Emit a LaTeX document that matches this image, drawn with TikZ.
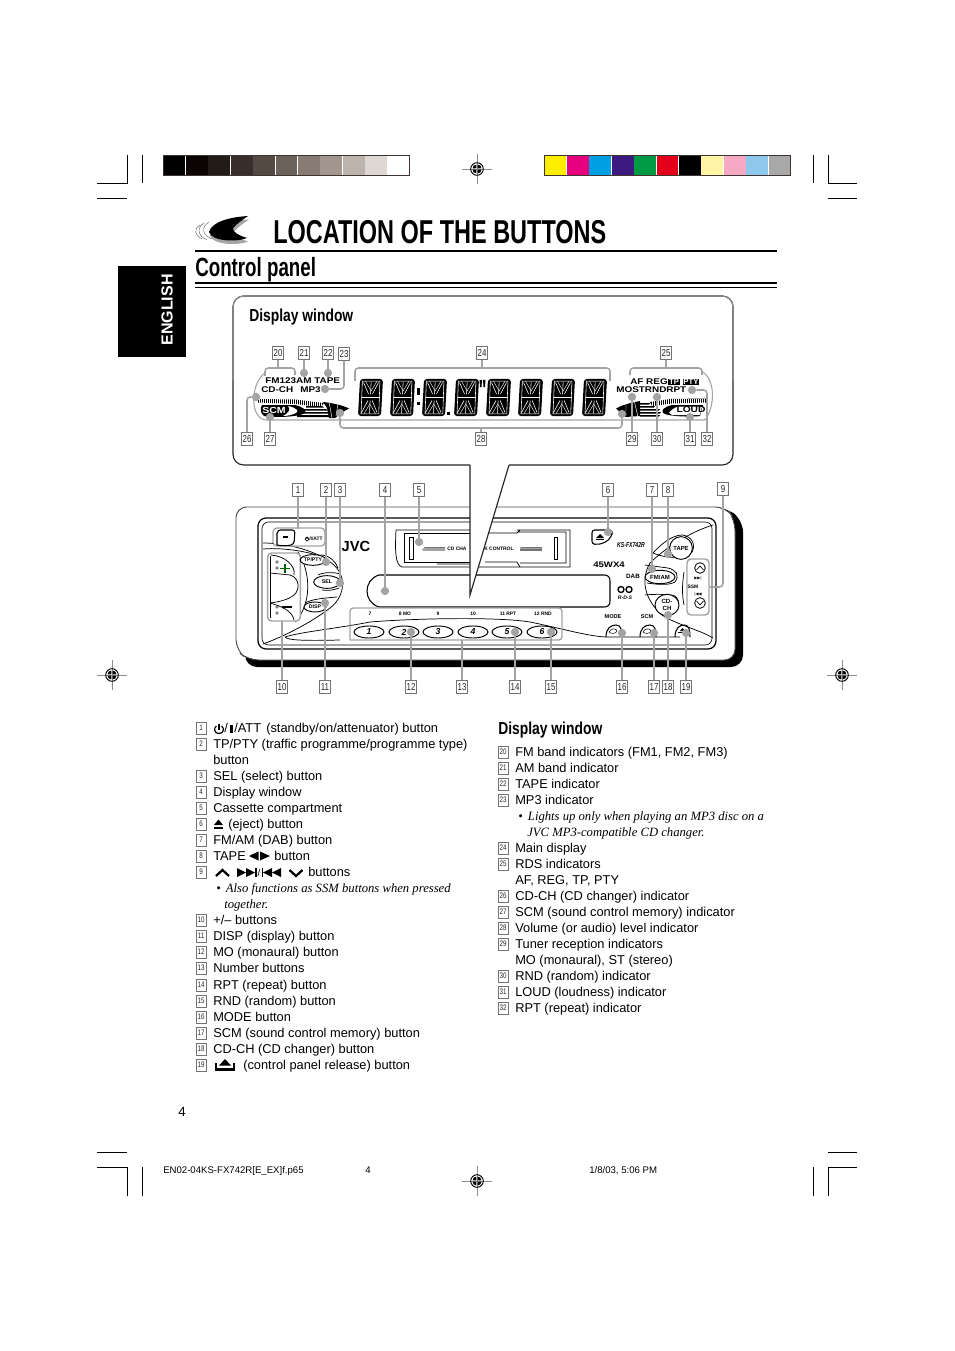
\documentclass[tikz,border=0pt]{standalone}
\usepackage{fontspec}
\usetikzlibrary{shapes.geometric}
\setmainfont{Liberation Sans}
\newfontfamily\condf[FakeStretch=0.71]{Liberation Sans}
\newfontfamily\condg[FakeStretch=0.8]{Liberation Sans}
\newfontfamily\narrf[FakeStretch=0.78]{Liberation Sans}
\newfontfamily\widef[FakeStretch=1.2]{Liberation Sans}
\newfontfamily\serf{Liberation Serif}
\newfontfamily\djv{DejaVu Sans}
\definecolor{conn}{HTML}{A3A3A3}
\definecolor{dkbar}{HTML}{3F3430}
\tikzset{
  numbox/.style={draw=black!55,line width=.4pt,fill=white,minimum width=8.6pt,minimum height=9.8pt,inner sep=0pt,font=\narrf\fontsize{7.6}{8}\selectfont,text=black!85},
  lnum/.style={draw=black!55,line width=.35pt,fill=white,minimum width=7.6pt,minimum height=8.6pt,inner sep=0pt,font=\narrf\fontsize{6}{7}\selectfont,text=black!85},
  ltext/.style={anchor=base west,inner sep=0pt,font=\fontsize{9.62}{11}\selectfont},
  lital/.style={anchor=base west,inner sep=0pt,font=\serf\itshape\fontsize{9.5}{11}\selectfont},
  conn/.style={draw=conn,line width=1.15pt,rounded corners=2.5pt},
  cdot/.style={circle,fill=conn,minimum size=6.2pt,inner sep=0pt},
  crop/.style={line width=.5pt,black},
  thin/.style={line width=.55pt,black},
  med/.style={line width=.8pt,black},
  btn/.style={ellipse,draw=black,line width=.7pt,fill=white,inner sep=0pt},
  lcd/.style={inner sep=0pt,font=\widef\bfseries\fontsize{6.2}{7}\selectfont},
  tiny/.style={inner sep=0pt,font=\bfseries\fontsize{3.7}{4}\selectfont},
  frame/.style={draw=conn,line width=1pt,rounded corners=2.5pt},
}
\newcommand{\segdigit}[1]{%
  \begin{scope}[shift={(#1,379)}]
    \fill[black,rounded corners=2.2pt] (2,0)--(25,0)--(23,37)--(0,37)--cycle;
    \draw[white,line width=.42pt] (3.6,18.5)--(21.8,18.5)
      (13.1,3)--(12.6,15.5) (12.1,21.5)--(11.5,34)
      (5.5,3.5)--(10.5,15) (20.5,3.5)--(14.5,15)
      (3.5,33.5)--(10,21.5) (19,33.5)--(14.2,21.5)
      (4.4,2.2)--(21.9,2.2)--(20.8,34.8)--(3,34.8)--cycle;
    \draw[white,line width=.3pt] (7.5,2.2)--(13.1,12)--(19,2.2) (6,34.8)--(11.8,25)--(17.5,34.8);
  \end{scope}}
\newcommand{\regmark}[2]{%
  \begin{scope}[shift={(#1,#2)}]
    \draw[black!45,line width=.4pt] (-15,0)--(15,0) (0,-15)--(0,15);
    \draw[black,line width=.7pt] (0,0) circle [radius=6.3];
    \fill[black] (-4.4,-.6)--(-.6,-.6)--(-.6,-4.4) .. controls (-3,-4.4) and (-4.4,-3) .. cycle;
    \fill[black] (4.4,-.6)--(.6,-.6)--(.6,-4.4) .. controls (3,-4.4) and (4.4,-3) .. cycle;
    \fill[black] (-4.4,.6)--(-.6,.6)--(-.6,4.4) .. controls (-3,4.4) and (-4.4,3) .. cycle;
    \fill[black] (4.4,.6)--(.6,.6)--(.6,4.4) .. controls (3,4.4) and (4.4,3) .. cycle;
  \end{scope}}
\begin{document}
\begin{tikzpicture}[x=.75pt,y=-.75pt]
\useasboundingbox (0,0) rectangle (954,1351);
\fill[white] (0,0) rectangle (954,1351);

% crop marks
\draw[crop] (127,155)--(127,183)--(97,183) (142,155)--(142,183) (97,198)--(127,198);
\draw[crop] (813,155)--(813,183) (857,183)--(828,183)--(828,155) (828,198)--(857,198);
\draw[crop] (97,1152)--(127,1152) (97,1167)--(127,1167)--(127,1196) (142,1167)--(142,1196);
\draw[crop] (828,1152)--(857,1152) (857,1167)--(828,1167)--(828,1196) (813,1167)--(813,1196);
\regmark{477}{169}\regmark{477}{1181}\regmark{112}{675}\regmark{842}{675}

% grey bar
\foreach \i/\c in {0/000000,1/0A0405,2/221C18,3/3A2E2C,4/534A44,5/6B625C,6/877B74,7/A2968F,8/BDB3AD,9/DDD8D4,10/FFFFFF}{
  \definecolor{tmpc}{HTML}{\c}
  \fill[tmpc] ({163.5+\i*22.4},155.5) rectangle ({163.5+\i*22.4+21.9},175.5);
}
\draw[dkbar,line width=.8pt] (163.5,155.5) rectangle (409.8,175.5);
% colour bar
\foreach \i/\c in {0/FFED00,1/E6007E,2/009FE3,3/3C1A80,4/009A44,5/E2001A,6/000000,7/FFF3A6,8/F5A9C4,9/8DC8EC,10/A8A8A8}{
  \definecolor{tmpc}{HTML}{\c}
  \fill[tmpc] ({544.5+\i*22.4},155.5) rectangle ({544.5+\i*22.4+21.9},175.5);
}
\draw[dkbar,line width=.8pt] (544.5,155.5) rectangle (790.8,175.5);

% title logo
\fill[black!35] (249,219.5) .. controls (233,220.5) and (213,224.5) .. (210,235.5) .. controls (213,245.5) and (239,245.5) .. (248,241.5) .. controls (241,239.5) and (233,235.5) .. (234,231.5) .. controls (238,227) and (244,223) .. (249,219.5)--cycle;
\fill[black] (248,216) .. controls (232,217) and (212,221) .. (209,232) .. controls (212,242) and (238,242) .. (247,238) .. controls (240,236) and (232,232) .. (233,228) .. controls (237,223.5) and (243,219.5) .. (248,216)--cycle;
\draw[black!60,line width=.35pt] (209,222) .. controls (201,227) and (202,235) .. (212,239)
  (204,223) .. controls (196,228) and (198,236) .. (207,240)
  (200,225) .. controls (193,229) and (195,236) .. (202,239);
\node[anchor=base west,inner sep=0pt,font=\condf\bfseries\fontsize{24.8}{28}\selectfont] (title) at (273,244) {LOCATION OF THE BUTTONS};
\draw[black,line width=1.5pt] (195,251)--(777,251);
\node[anchor=base west,inner sep=0pt,font=\condf\bfseries\fontsize{19.8}{22}\selectfont] (sub) at (195,277) {Control panel};
\draw[black,line width=1.5pt] (195,283.5)--(777,283.5);
\draw[black,line width=.7pt] (195,287)--(777,287);

% english tab
\fill[black] (118,266) rectangle (186,357);
\node[rotate=90,text=white,inner sep=0pt,font=\bfseries\fontsize{12}{14}\selectfont] (eng) at (167,310) {ENGLISH};

% ===== device =====
\fill[black,rounded corners=9pt] (245,512)--(725,507)--(743,520)--(743,667)--(245,667)--cycle;
\fill[white,draw=black!70,line width=.7pt,rounded corners=8pt] (236,507)--(726,507)--(735,520)--(735,660)--(248,660)--(236,650)--cycle;
\draw[black,line width=.9pt,rounded corners=6pt] (258,518) rectangle (716,649);
\draw[black,line width=.45pt,rounded corners=5pt] (262,522) rectangle (712,645);

% left cluster arcs
\draw[thin] (263,543) .. controls (285,543) and (318,550) .. (335,566) .. controls (348,580) and (343,598) .. (330,608) .. controls (312,622) and (285,636) .. (263,644);
\draw[thin] (263,549) .. controls (285,547) and (318,553) .. (328,560);
\draw[thin] (298,552) .. controls (311,572) and (312,604) .. (295,622);
\draw[thin] (303,557)--(322,555) .. controls (330,556) and (336,562) .. (338,568);
\draw[thin] (318,575) .. controls (324,572) and (334,572) .. (340,574);
\draw[thin] (322,590) .. controls (328,591) and (334,590) .. (339,588);
\draw[thin] (305,603) .. controls (312,599) and (325,598) .. (337,597);
% swoosh
\draw[thin] (285,637) .. controls (300,632) and (340,628) .. (370,622) .. controls (420,618) and (500,617) .. (530,622) .. controls (560,628) and (590,637) .. (608,637)--(680,637);
\draw[thin] (285,637) .. controls (288,640) and (300,641) .. (340,640);

% button 1
\node[draw=conn,line width=1pt,rounded corners=3pt,minimum width=39pt,minimum height=13.5pt,fill=white,inner sep=0pt] (f1) at (299,537) {};
\draw[med,rounded corners=2pt] (277,545)--(277,536) .. controls (277,531) and (280,530) .. (283,530)--(295,530)--(294,544) .. controls (288,546) and (282,546) .. (277,545);
\draw[black,line width=1.1pt] (283,537)--(288,537);
\draw[black,line width=.5pt] (306.2,537.2) .. controls (304.5,538) and (305,541.2) .. (307,541.2) .. controls (309,541.2) and (309.5,538) .. (307.8,537.2) (307,536.5)--(307,539);
\node[tiny,anchor=west] (att) at (309,539) {/I/ATT};

% rocker group (10)
\node[draw=conn,line width=1.1pt,rounded corners=3pt,minimum width=24.5pt,minimum height=51pt,fill=white,inner sep=0pt] (f10) at (284,587) {};
\draw[thin] (271,555) .. controls (285,556) and (296,566) .. (294,575) (270,573)--(290,575) .. controls (300,578) and (300,590) .. (294,595) .. controls (288,600) and (278,602) .. (270,603);
\draw[thin] (270,603) .. controls (280,606) and (292,610) .. (294,620);
\draw[thin] (270,556)--(270,618);
\foreach \yy in {562,568,607,613}{\draw[black,line width=.35pt] (277,\yy) circle [radius=1.4];}
\draw[black!60!green,line width=.9pt] (280,568.5)--(290,568.5) (285,564)--(285,573);
\draw[black,line width=.9pt] (282,607)--(292,607);

\node[btn,minimum width=17.5pt,minimum height=8pt,font=\bfseries\fontsize{3.9}{4}\selectfont] (tpb) at (313,560) {TP/PTY};
\node[btn,minimum width=20pt,minimum height=9.5pt,font=\bfseries\fontsize{4}{4}\selectfont] (selb) at (327,582) {SEL};
\node[btn,minimum width=16.5pt,minimum height=7.5pt,font=\bfseries\fontsize{3.9}{4}\selectfont] (dispb) at (315,607) {DISP};

\node[inner sep=0pt,font=\bfseries\fontsize{11}{12}\selectfont] (jvc) at (356,546) {JVC};

% cassette
\draw[thin] (396,530)--(470,530) (396,530) .. controls (395,550) and (395,565) .. (402,567)--(570,567);
\draw[thin] (404,533)--(404,562)--(470,562) (404,533)--(470,533);
\draw[thin] (517,530)--(570,530) (485,533)--(517,533)--(520,530) (570,530)--(570,567) (485,562)--(517,562)--(520,567) (437,564)--(470,564) (520,563)--(566,563)--(566,532)--(518,532);
\draw[line width=.55pt] (409,537) rectangle (413,559) (554,537) rectangle (557,559);
\fill[black!55] (423,548.5)--(445,548.5)--(445,547)--(425,547)--cycle;
\fill[black!55] (423,550.5)--(445,550.5)--(445,549.3)--(422,549.3)--cycle;
\fill[black!55] (520,548.5)--(542,548.5)--(542,547)--(521,547)--cycle;
\fill[black!55] (520,550.5)--(542,550.5)--(542,549.3)--(520,549.3)--cycle;
\node[tiny,anchor=west] (cdch) at (447,549) {CD CHA};
\node[tiny,anchor=west] (ctl) at (484,549) {K CONTROL};

% display slot
\draw[med] (379,575)--(604,575) .. controls (608,575) and (610,577) .. (610,581)--(610,601) .. controls (610,605) and (608,607) .. (604,607)--(379,607) .. controls (363,602) and (363,580) .. (379,575)--cycle;

% number panel
\draw[frame] (350,640)--(350,608)--(562,608)--(562,640)--(350,640);
\foreach \x/\t in {370/7,405/8 MO,438/9,473/10,508/11 RPT,543/12 RND}{
  \node[tiny] at (\x,614) {\t};
}
\foreach \x/\t in {369/1,404/2,438/3,473/4,507/5,542/6}{
  \node[btn,minimum width=22.5pt,minimum height=9pt,font=\bfseries\itshape\fontsize{6.5}{7}\selectfont] (k\t) at (\x,632) {\t};
}

% eject
\draw[med,rounded corners=2pt] (592,530)--(612,530)--(612,534) .. controls (609,541) and (602,545) .. (592,544)--cycle;
\fill[black] (600,534)--(604,538)--(596,538)--cycle;
\draw[black,line width=.5pt] (596,539.5)--(604,539.5);
\node[tiny,font=\condf\bfseries\itshape\fontsize{5.4}{6}\selectfont] (model) at (631,545) {KS-FX742R};
\node[tiny,font=\widef\bfseries\fontsize{6}{6}\selectfont] (watt) at (609,565) {45WX4};
\node[tiny,font=\bfseries\fontsize{4.7}{5}\selectfont] (dab) at (633,576) {DAB};
\draw[black,line width=1pt] (621,589.5) circle [radius=3] (629,589.5) circle [radius=3];
\node[tiny,font=\bfseries\itshape\fontsize{3.8}{4}\selectfont] (rds) at (625,597.5) {R·D·S};

% right cluster arcs
\draw[thin] (713,525) .. controls (690,532) and (665,548) .. (650,563) .. controls (640,580) and (645,600) .. (662,615) .. controls (675,624) and (700,630) .. (713,638);
\draw[thin] (653,553) .. controls (660,545) and (672,535) .. (682,535) .. controls (692,536) and (696,545) .. (692,552) .. controls (685,558) and (670,560) .. (653,553);
\draw[thin] (645,565)--(668,568) .. controls (676,570) and (680,575) .. (675,582) .. controls (670,585) and (660,585) .. (647,583);
\draw[thin] (645,595) .. controls (655,594) and (668,594) .. (675,596) .. controls (682,602) and (678,612) .. (670,613);
\draw[thin] (684,572) .. controls (682,585) and (682,595) .. (684,605);
\node[btn,minimum width=17pt,minimum height=17pt,font=\bfseries\fontsize{4.4}{4.5}\selectfont] (tapeb) at (681,548) {TAPE};
\node[btn,minimum width=22.5pt,minimum height=10pt,font=\bfseries\fontsize{4.5}{5}\selectfont] (fmb) at (660,577) {FM/AM};
\node[btn,minimum width=18pt,minimum height=16pt,align=center,font=\bfseries\fontsize{4.6}{5}\selectfont] (cdb) at (667,605) {CD-\\CH};

% lower small buttons
\foreach \n/\x in {modeb/614,scmb/648}{
  \draw[med] (\x-8,637) .. controls (\x-8,628) and (\x-3,625) .. (\x+2,625) .. controls (\x+7,625) and (\x+8,630) .. (\x+8,637);
  \draw[black,line width=.4pt] (\x-5,632) .. controls (\x-3,628) and (\x+2,628) .. (\x+3,631) .. controls (\x+2,634) and (\x-3,634) .. (\x-5,632);
}
\draw[med] (675,637) .. controls (675,628) and (680,625) .. (684,625) .. controls (689,625) and (690,630) .. (690,637);
\fill[black] (680,631)--(682.5,628)--(685,631)--cycle;
\draw[black,line width=.4pt] (678,632)--(687,632);
\node[tiny,font=\bfseries\fontsize{4.2}{5}\selectfont] (model2) at (613,617) {MODE};
\node[tiny,font=\bfseries\fontsize{4.2}{5}\selectfont] (scml) at (647,617) {SCM};

% seek group (9)
\node[draw=conn,line width=1.1pt,rounded corners=3pt,minimum width=16.5pt,minimum height=42pt,fill=white,inner sep=0pt] (f9) at (698,587) {};
\node[circle,draw=black,line width=.6pt,minimum size=8pt,inner sep=0pt] (up) at (700,568) {};
\node[circle,draw=black,line width=.6pt,minimum size=8pt,inner sep=0pt] (dn) at (700,603) {};
\draw[black,line width=.5pt] (696.5,570)--(700,566)--(703.5,570) (696.5,601)--(700,605)--(703.5,601);
\node[inner sep=0pt,font=\djv\fontsize{3}{4}\selectfont] (ffw) at (698,578) {▶▶|};
\node[tiny] (ssm) at (693,587) {SSM};
\node[inner sep=0pt,font=\djv\fontsize{3}{4}\selectfont] (rew) at (698,594) {|◀◀};

% ===== display window frame and callout =====
\fill[white] (470,465)--(509,465)--(470,595)--cycle;
\draw[black!85,line width=.85pt,rounded corners=8pt] (470,465)--(233,465)--(233,296)--(733,296)--(733,465)--(509,465);
\draw[black!85,line width=.85pt] (470,465)--(470,595)--(509,465);
\draw[black!45,line width=.85pt,rounded corners=8pt] (233,380)--(233,296)--(733,296)--(733,380);
\node[anchor=base west,inner sep=0pt,font=\condg\bfseries\fontsize{13}{14}\selectfont] (dw) at (249,322) {Display window};

% LCD outline
\draw[conn,line width=.8pt] (265,373) .. controls (252,382) and (250,410) .. (263,420)--(705,420);
\draw[conn,line width=.8pt] (701,371) .. controls (715,378) and (716,405) .. (705,420);
% LCD text
\node[lcd,anchor=west] (fm) at (265,381) {FM123AM TAPE};
\node[lcd,anchor=west] (cd) at (261,389.5) {CD-CH};
\node[lcd,anchor=west] (mp3) at (300,389.5) {MP3};
\node[lcd,anchor=west] (af) at (630,382) {AF REG};
\node[fill=black,text=white,inner sep=.5pt,font=\bfseries\fontsize{5.8}{6}\selectfont] (tp) at (674,382) {TP};
\node[fill=black,text=white,inner sep=.5pt,font=\bfseries\fontsize{5.8}{6}\selectfont] (pty) at (691,382) {PTY};
\node[lcd,anchor=west] (mo) at (616,390) {MOSTRNDRPT};
% bar meter left
\fill[black] (258,399)--(295,399.5)--(324,403)--(321,407)--(295,404)--(258,402.5)--cycle;
\foreach \x in {259,261,...,321}{\draw[white,line width=.25pt] (\x,398.5)--(\x,407);}
\fill[black] (262,405)--(295,405) .. controls (303,407) and (307,410) .. (305,413) .. controls (300,417) and (272,418) .. (264,416) .. controls (260,413) and (260,408) .. (262,405)--cycle;
\node[inner sep=0pt,text=white,font=\widef\bfseries\fontsize{6.6}{7}\selectfont] (scm) at (274,410.5) {SCM};
\fill[white] (288,406) .. controls (297,408) and (299,411) .. (296,413) .. controls (292,415) and (287,416) .. (283,416) .. controls (289,413) and (291,409) .. (288,406)--cycle;
\foreach \ya/\yb/\xa/\xb in {406/407.5/306/322,409/410.5/304/326,412/413.5/303/328,415/417/297/330}{
  \fill[black] (\xa,\ya)--(\xb,\ya)--(\xb+2,\yb)--(\xa,\yb)--cycle;
}
\fill[black] (323,402) .. controls (332,403) and (342,405) .. (349,408.5)--(341,413)--(335,418)--(329,418)--(327,408)--cycle;
\draw[white,line width=.35pt] (329,402)--(332,418) (338,404)--(336,416);
% bar meter right
\fill[black] (706,398.5)--(670,399)--(650,402)--(652,406)--(672,403.5)--(706,402.5)--cycle;
\foreach \x in {652,654,...,706}{\draw[white,line width=.25pt] (\x,398.5)--(\x,407);}
\fill[black] (703,405)--(672,405) .. controls (664,407) and (661,410) .. (663,413) .. controls (668,417) and (695,417) .. (700,416)--cycle;
\fill[white] (678,406.5)--(702,406.5)--(700,415)--(672,415)--(669,412.5) .. controls (671,410) and (674,408) .. (678,406.5)--cycle;
\node[inner sep=0pt,font=\widef\bfseries\fontsize{6.4}{7}\selectfont] (loud) at (691,410) {LOUD};
\fill[black] (616,408.5) .. controls (622,405) and (630,403) .. (640,401)--(640,416)--(625,417)--cycle;
\foreach \ya/\yb/\xa/\xb in {403/404.5/640/650,406/407.5/640/655,409/410.5/640/660,412/413.5/640/661,415/416.5/640/660}{
  \fill[black] (\xa,\ya)--(\xb,\ya)--(\xb-1,\yb)--(\xa,\yb)--cycle;
}
\draw[white,line width=.35pt] (626,403)--(626,418) (634,400)--(638,417);
% digits
\foreach \x in {358,390,422,454,486,518,550,582}{\segdigit{\x}}
\fill[black] (417,388) rectangle (420,395);
\fill[black] (417,402) rectangle (420,405);
\fill[black] (447,412) rectangle (450,415);
\fill[black] (479.5,380)--(482,380)--(481.5,387)--(480,387)--cycle;
\fill[black] (483,380)--(485.5,380)--(485,387)--(483.5,387)--cycle;

% ===== callout number boxes =====
\foreach \n/\x/\y in {1/298/490,2/326/490,3/340/490,4/385/490,5/419/490,6/608/490,7/652/490,8/668/490,9/723/489,
  10/282/687,11/325/687,12/411/687,13/462/687,14/515/687,15/551/687,16/622/687,17/654/687,18/668/687,19/686/687,
  20/278/353,21/304/353,22/328/353,23/344/354,24/482/353,25/666/353,26/247/439,27/270/439,28/481/439,29/632/439,30/657/439,31/690/439,32/707/439}{
  \node[numbox] (n\n) at (\x,\y) {\n};
}
% dots
\foreach \n/\x/\y in {2/326/562,3/340/583,4/385/591,5/419/542,6/608/532,7/652/569,8/668/554,11/325/603,12/411/632,14/515/632,15/551/632,16/622/633,17/654/633,18/668/615,19/686/633,
  21/304/373,22/328/373,23/325/389,26/256/397,27/270/417,28/340/413,129/622/414,29/632/397,30/657/397,31/690/417,32/692/390}{
  \node[cdot] (d\n) at (\x,\y) {};
}
\coordinate (a1) at (298,529);
\coordinate (a10) at (282,621);
\coordinate (a13) at (462,640);
\coordinate (a28) at (481,428);
\draw[conn] (n1)--(a1);
\foreach \i in {2,3,4,5,6,7,8}{\draw[conn] (n\i)--(d\i);}
\draw[conn] (n9)|-(f9.east);
\draw[conn] (n10)--(a10);
\draw[conn] (n13)--(a13);
\foreach \i in {11,12,14,15,16,17,18,19}{\draw[conn] (n\i)--(d\i);}
\draw[conn] (n21)--(d21) (n22)--(d22);
\draw[conn] (n23.south)|-(d23);
\draw[conn] (n26.north)|-(d26);
\draw[conn] (n27)--(d27);
\draw[conn] (n29)--(d29) (n30)--(d30) (n31)--(d31);
\draw[conn] (n32.north)|-(d32);
\draw[conn] (d28) |- (a28) -| (d129);
\draw[conn] (n28)--(a28);
% brackets
\coordinate (b20m) at (278,368);
\draw[conn] (n20)--(b20m);
\draw[conn] (265,376)--(265,368)--(295,368)--(295,375);
\coordinate (b24m) at (482,368);
\draw[conn] (n24)--(b24m);
\draw[conn] (355,381)--(355,368)--(610,368)--(610,381);
\coordinate (b25m) at (666,368);
\draw[conn] (n25)--(b25m);
\draw[conn] (630,375)--(630,368)--(702,368)--(702,375);

% ===== left list =====
\foreach \n/\y/\t in {2/744/{TP/PTY (traffic programme/programme type)},3/776/{SEL (select) button},4/792/{Display window},5/808/{Cassette compartment},7/840/{FM/AM (DAB) button},10/920/{+/– buttons},11/936/{DISP (display) button},12/952/{MO (monaural) button},13/968/{Number buttons},14/985/{RPT (repeat) button},15/1001/{RND (random) button},16/1017/{MODE button},17/1033/{SCM (sound control memory) button},18/1049/{CD-CH (CD changer) button}}{
  \node[lnum] (l\n) at (201,\y) {\n};
  \node[ltext] (t\n) at (213,\y+4) {\t};
}
\foreach \n/\y in {1/728,6/824,8/856,9/872,19/1065}{\node[lnum] (l\n) at (201,\y) {\n};}
\node[ltext] (t2b) at (213,764) {button};
% item 1
\begin{scope}[shift={(219,729)}]
  \draw[black,line width=.9pt] (-2.6,-3) .. controls (-5.5,-1) and (-5,4.5) .. (0,4.5) .. controls (5,4.5) and (5.5,-1) .. (2.6,-3);
  \draw[black,line width=.9pt] (0,-5)--(0,.5);
\end{scope}
\node[ltext] (t1a) at (224,732.5) {/};
\fill[black] (230,724.5) rectangle (232.5,733);
\node[ltext] (t1b) at (234,732.5) {/ATT};
\node[ltext] (t1) at (266,732) {(standby/on/attenuator) button};
% item 6
\fill[black] (218.5,819.5)--(223,825)--(214,825)--cycle;
\fill[black] (214,826.5) rectangle (223,828.5);
\node[ltext] (t6) at (228,828) {(eject) button};
% item 8
\node[ltext] (t8) at (213,860) {TAPE};
\fill[black] (249,856)--(258.5,851.5)--(258.5,860.5)--cycle;
\fill[black] (260,851.5)--(270,856)--(260,860.5)--cycle;
\node[ltext] (t8b) at (274,860) {button};
% item 9
\draw[black,line width=1.7pt] (216,876)--(222.5,870)--(229,876);
\fill[black] (237,868)--(246,872.5)--(237,877)--cycle;
\fill[black] (246,868)--(255,872.5)--(246,877)--cycle;
\fill[black] (255,868) rectangle (256.5,877);
\node[inner sep=0pt,font=\fontsize{7.5}{9}\selectfont] (sl) at (259,872.5) {/};
\fill[black] (261.5,868) rectangle (263,877);
\fill[black] (272,868)--(263,872.5)--(272,877)--cycle;
\fill[black] (281,868)--(272,872.5)--(281,877)--cycle;
\draw[black,line width=1.7pt] (289.5,870)--(296,876)--(302.5,870);
\node[ltext] (t9) at (308,876) {buttons};
\node[lital] (t9i) at (216,892) {• \,Also functions as SSM buttons when pressed};
\node[lital] (t9j) at (224,908) {together.};
% item 19
\draw[black,line width=1.6pt] (216,1063)--(216,1069.5)--(234,1069.5)--(234,1063);
\fill[black] (225,1059)--(231,1065.5)--(219,1065.5)--cycle;
\node[ltext] (t19) at (243,1069) {(control panel release) button};

% ===== right list =====
\node[anchor=base west,inner sep=0pt,font=\condg\bfseries\fontsize{13}{14}\selectfont] (dwh) at (498,734) {Display window};
\foreach \n/\y in {20/752,21/768,22/784,23/800,24/848,25/864,26/896,27/912,28/928,29/944,30/976,31/992,32/1008}{
  \node[lnum] (l\n) at (503,\y) {\n};
}
\node[ltext] (r20) at (515,756) {FM band indicators (FM1, FM2, FM3)};
\node[ltext] (r21) at (515,772) {AM band indicator};
\node[ltext] (r22) at (515,788) {TAPE indicator};
\node[ltext] (r23) at (515,804) {MP3 indicator};
\node[lital] (r23a) at (518,820) {• \,Lights up only when playing an MP3 disc on a};
\node[lital] (r23b) at (527,836) {JVC MP3-compatible CD changer.};
\node[ltext] (r24) at (515,852) {Main display};
\node[ltext] (r25) at (515,868) {RDS indicators};
\node[ltext] (r25b) at (515,884) {AF, REG, TP, PTY};
\node[ltext] (r26) at (515,900) {CD-CH (CD changer) indicator};
\node[ltext] (r27) at (515,916) {SCM (sound control memory) indicator};
\node[ltext] (r28) at (515,932) {Volume (or audio) level indicator};
\node[ltext] (r29) at (515,948) {Tuner reception indicators};
\node[ltext] (r29b) at (515,964) {MO (monaural), ST (stereo)};
\node[ltext] (r30) at (515,980) {RND (random) indicator};
\node[ltext] (r31) at (515,996) {LOUD (loudness) indicator};
\node[ltext] (r32) at (515,1012) {RPT (repeat) indicator};

% footer
\node[anchor=base west,inner sep=0pt,font=\fontsize{10}{12}\selectfont] (pg) at (178,1116) {4};
\node[anchor=base west,inner sep=0pt,font=\fontsize{7.2}{9}\selectfont] (f1t) at (163,1173) {EN02-04KS-FX742R[E\_EX]f.p65};
\node[anchor=base west,inner sep=0pt,font=\fontsize{7.2}{9}\selectfont] (f2t) at (365,1173) {4};
\node[anchor=base west,inner sep=0pt,font=\fontsize{7.2}{9}\selectfont] (f3t) at (589,1173) {1/8/03, 5:06 PM};
\end{tikzpicture}
\end{document}
